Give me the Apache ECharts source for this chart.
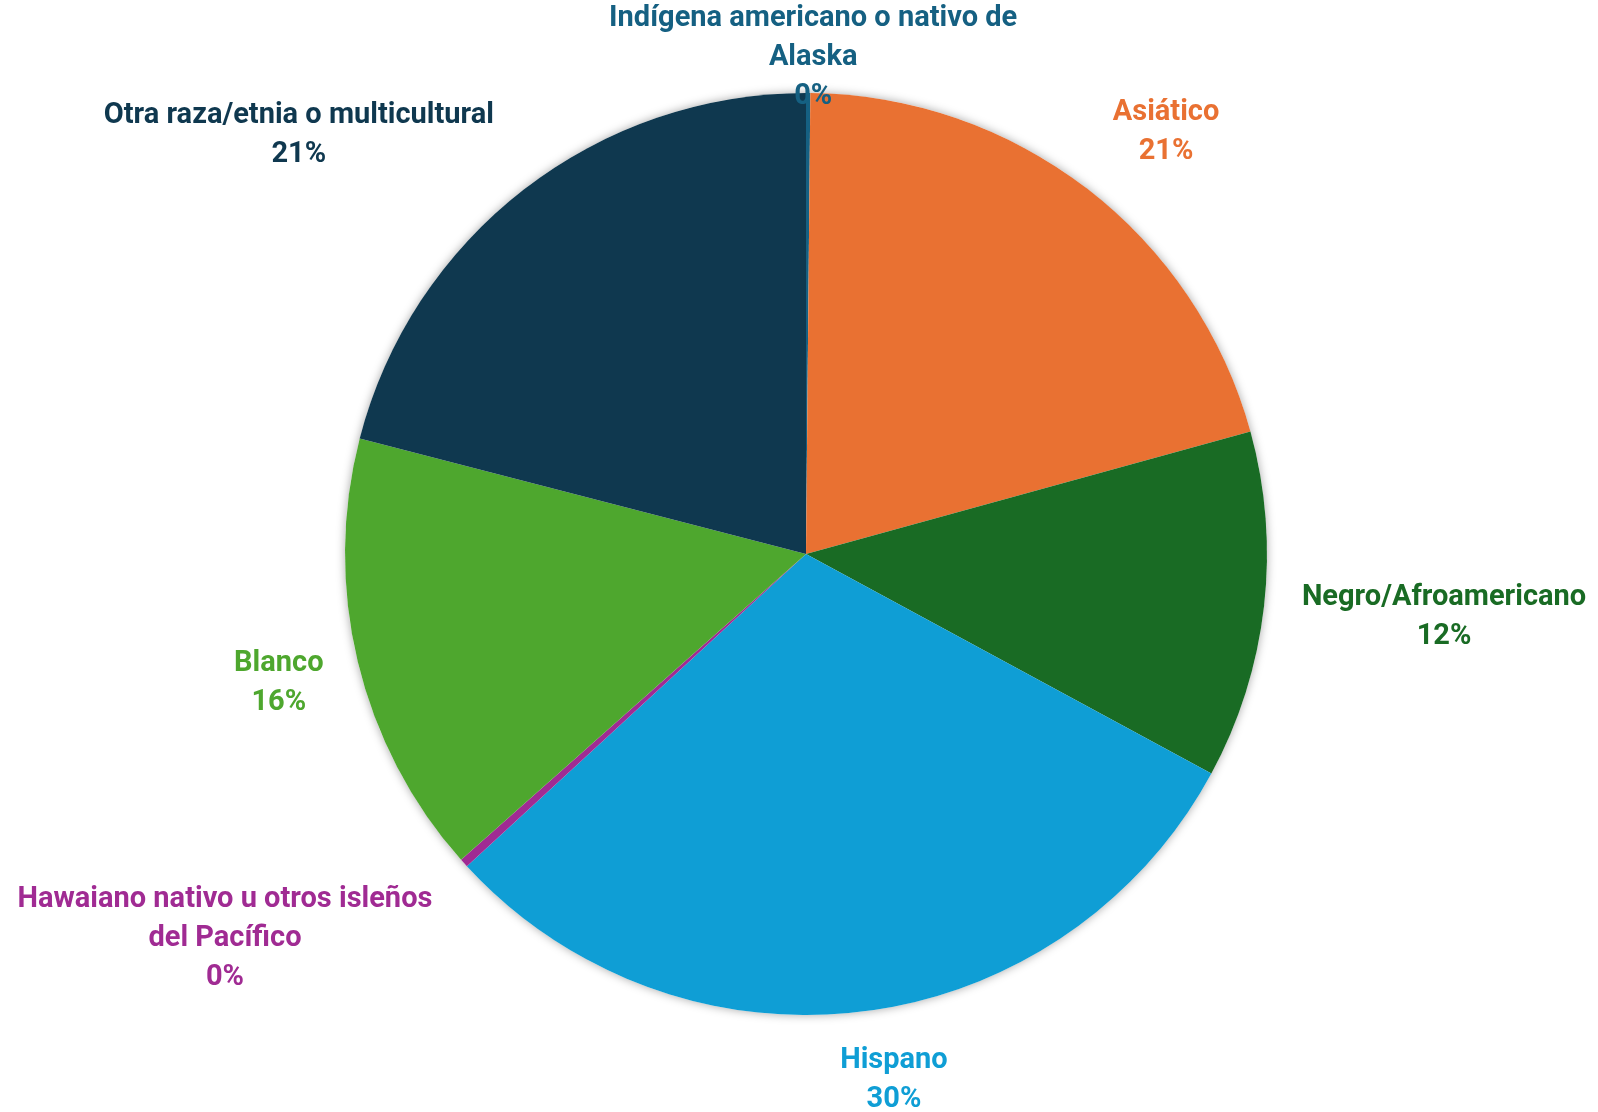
<!DOCTYPE html>
<html>
<head>
<meta charset="utf-8">
<script src="https://cdn.jsdelivr.net/npm/echarts@6/dist/echarts.min.js"></script>
<style>
html,body{margin:0;padding:0;background:#fff;}
#chart{width:1598px;height:1112px;}
</style>
</head>
<body>
<div id="chart"></div>
<script>
// Data
const categories = [
  'Indígena americano o nativo de\nAlaska',
  'Asiático',
  'Negro/Afroamericano',
  'Hispano',
  'Hawaiano nativo u otros isleños\ndel Pacífico',
  'Blanco',
  'Otra raza/etnia o multicultural'
];
const values = [0.15, 20.6, 12.2, 30.3, 0.3, 15.6, 21.0];
const colors = ['#156082', '#E97132', '#196B24', '#0F9ED5', '#A02B93', '#4EA72E', '#0F384F'];
// label offsets from the sector edge point (styling only)
const labelOffsets = [[5, -35], [79, -56], [180, 11], [31, 69], [-239, 76], [-79, 21], [-225, -54]];

const total = values.reduce((a, b) => a + b, 0);
const pieData = categories.map((c, i) => ({
  name: c,
  value: values[i],
  itemStyle: { color: colors[i] },
  label: { color: colors[i] }
}));

const chart = echarts.init(document.getElementById('chart'), null, { renderer: 'canvas' });
chart.setOption({
  backgroundColor: '#ffffff',
  animation: false,
  series: [
    {
      type: 'pie',
      silent: true,
      center: [806, 554],
      radius: 461,
      label: { show: false },
      labelLine: { show: false },
      itemStyle: { color: '#ffffff', shadowBlur: 10, shadowColor: 'rgba(0,0,0,0.35)', borderWidth: 0 },
      data: [{ name: 'base', value: total }],
      z: 1
    },
    {
      type: 'pie',
      center: [806, 554],
      radius: 461,
      startAngle: 90,
      clockwise: true,
      avoidLabelOverlap: false,
      minShowLabelAngle: 0,
      itemStyle: { borderWidth: 0 },
      label: {
        show: true,
        position: 'outside',
        fontFamily: 'Roboto',
        fontWeight: 'bold',
        fontSize: 29,
        lineHeight: 39,
        distanceToLabelLine: 0,
        formatter: p => p.name + '\n' + Math.round(p.value / total * 100) + '%'
      },
      labelLine: { show: false, length: 0, length2: 0 },
      labelLayout: params => ({
        align: 'center',
        verticalAlign: 'middle',
        dx: labelOffsets[params.dataIndex][0],
        dy: labelOffsets[params.dataIndex][1]
      }),
      data: pieData,
      z: 2
    }
  ]
});
</script>
</body>
</html>
